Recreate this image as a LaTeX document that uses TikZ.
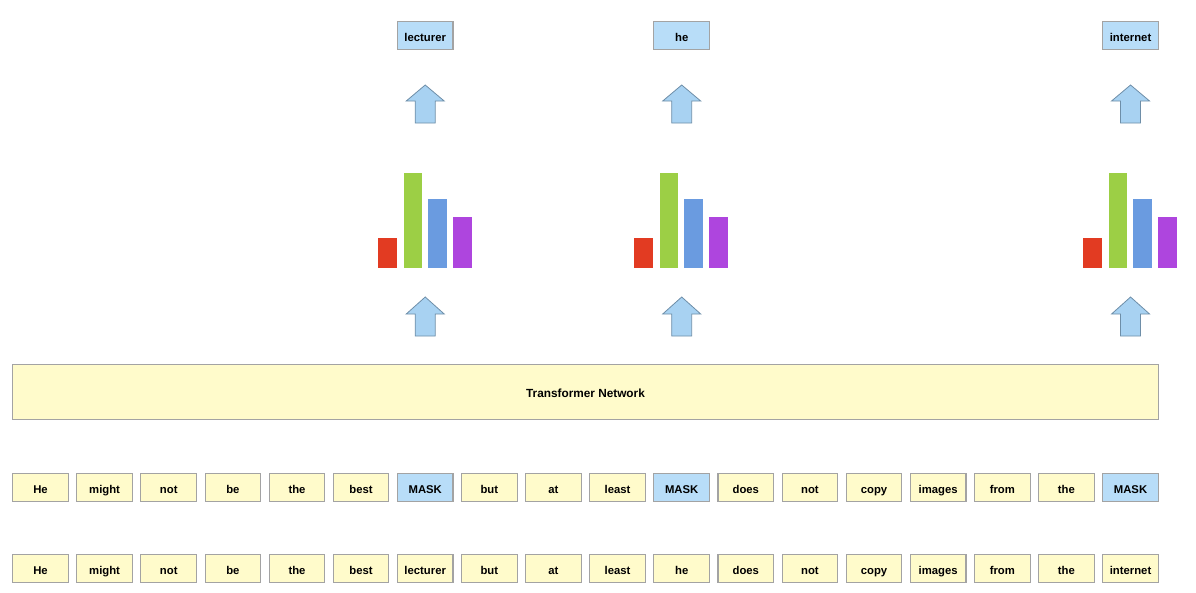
\documentclass[tikz,border=0pt]{standalone}
\usepackage{fontspec}
\setmainfont{Liberation Sans}
\begin{document}
\begin{tikzpicture}[x=1pt,y=-1pt,
  tok/.style={draw=boxgray,line width=1.1pt,fill=tokfill,minimum width=55.6pt,minimum height=28pt,inner sep=0pt,text height=12pt,text depth=0pt,font=\fontsize{11.3}{13}\selectfont\bfseries},
  msk/.style={tok,fill=maskfill},
  blockarrow/.style={draw=arrowline,fill=arrowfill,line width=0.8pt,line join=miter}
]
\definecolor{boxgray}{HTML}{A3A3A3}
\definecolor{tokfill}{HTML}{FFFBCB}
\definecolor{maskfill}{HTML}{B8DDF8}
\definecolor{arrowfill}{HTML}{A8D2F2}
\definecolor{arrowline}{HTML}{6E8EA8}
\definecolor{barred}{HTML}{E23B22}
\definecolor{bargreen}{HTML}{9CCF45}
\definecolor{barblue}{HTML}{6A9BE0}
\definecolor{barpurple}{HTML}{AE45DE}
\useasboundingbox (0,0) rectangle (1196,592);

% Transformer
\node[draw=boxgray,line width=1.1pt,fill=tokfill,minimum width=1145.6pt,minimum height=55pt,inner sep=0pt,text height=10.4pt,text depth=0pt,font=\fontsize{11.8}{13}\selectfont\bfseries] (tn) at (585.5,391.8) {Transformer Network};

% token rows
\foreach \w [count=\i from 0] in {He,might,not,be,the,best,MASK,but,at,least,MASK,does,not,copy,images,from,the,MASK}{
  \pgfmathsetmacro\cx{40.5+64.12*\i}
  \ifnum\i=6 \node[msk] (m\i) at (\cx,487.5) {\w};
  \else\ifnum\i=10 \node[msk] (m\i) at (\cx,487.5) {\w};
  \else\ifnum\i=17 \node[msk] (m\i) at (\cx,487.5) {\w};
  \else \node[tok] (m\i) at (\cx,487.5) {\w};
  \fi\fi\fi
}
\foreach \w [count=\i from 0] in {He,might,not,be,the,best,lecturer,but,at,least,he,does,not,copy,images,from,the,internet}{
  \pgfmathsetmacro\cx{40.5+64.12*\i}
  \node[tok] (o\i) at (\cx,568.5) {\w};
}

% outputs
\foreach \i/\w in {6/lecturer,10/he,17/internet}{
  \pgfmathsetmacro\cx{40.5+64.12*\i}
  \node[msk] (p\i) at (\cx,35.5) {\w};
  % upper arrow
  \draw[blockarrow] (\cx,85) -- (\cx+19,101) -- (\cx+10,101) -- (\cx+10,123) -- (\cx-10,123) -- (\cx-10,101) -- (\cx-19,101) -- cycle;
  % lower arrow
  \draw[blockarrow] (\cx,297) -- (\cx+19,314) -- (\cx+10,314) -- (\cx+10,336) -- (\cx-10,336) -- (\cx-10,314) -- (\cx-19,314) -- cycle;
  % bars
  \fill[barred] (\cx-47.7,238.3) rectangle (\cx-28.3,268.3);
  \fill[bargreen] (\cx-21.7,173.3) rectangle (\cx-3.3,268.3);
  \fill[barblue] (\cx+2.7,199.3) rectangle (\cx+21.7,268.3);
  \fill[barpurple] (\cx+27.7,217.3) rectangle (\cx+46.7,268.3);
}
\end{tikzpicture}
\end{document}
